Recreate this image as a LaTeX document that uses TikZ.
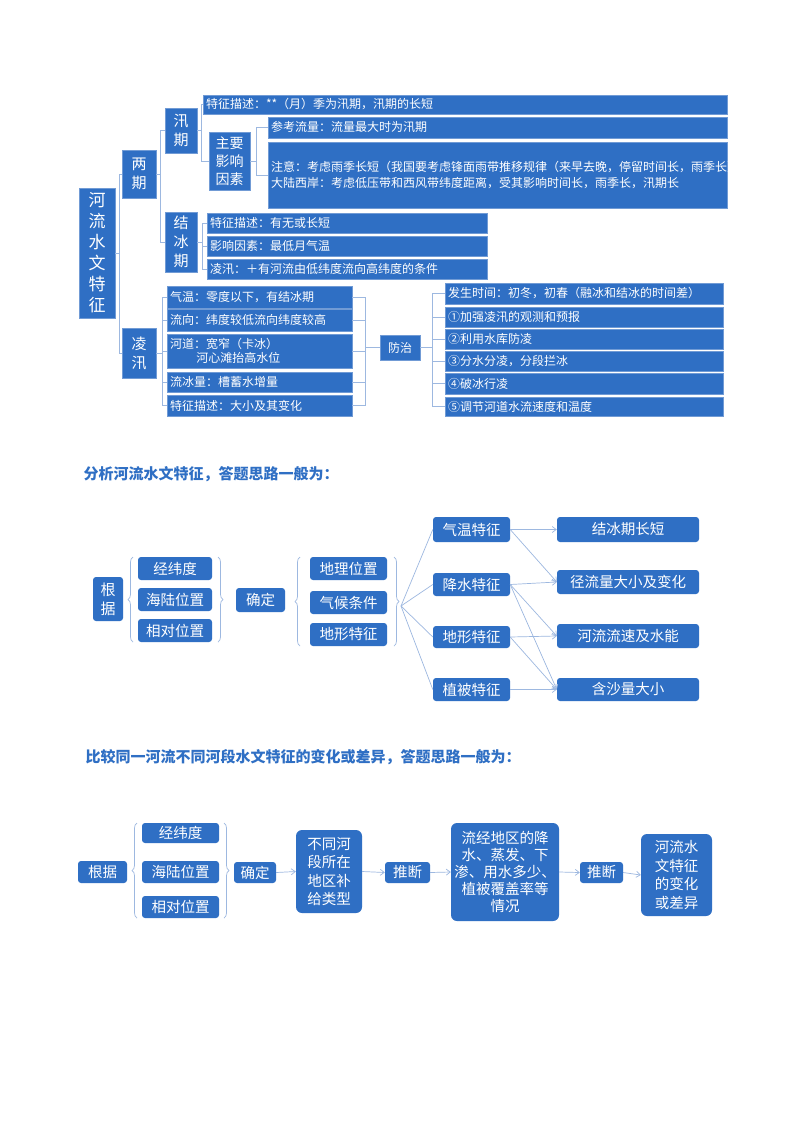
\documentclass[tikz,border=0pt]{standalone}
\usepackage{fontspec}
\setmainfont{Noto Sans CJK SC}
\usetikzlibrary{decorations.pathreplacing,arrows.meta}
\definecolor{bb}{HTML}{2F6FC4}
\definecolor{ll}{HTML}{9DB8E0}
\newcommand\mkbox[7][]{\node[bx,#1,minimum width={(#4-#2)*1pt},minimum height={(#5-#3)*1pt}] (#7) at ({(#2+#4)/2},{(#3+#5)/2}) {#6};}
\newcommand\mkboxl[7][]{\node[bx,#1,minimum width={(#4-#2)*1pt},minimum height={(#5-#3)*1pt},text width={(#4-#2-6)*1pt},align=left] (#7) at ({(#2+#4)/2},{(#3+#5)/2}) {#6};}
\begin{document}
\begin{tikzpicture}[x=1pt,y=-1pt,
  bx/.style={fill=bb,draw=ll!60!bb,line width=0.4pt,text=white,inner sep=0pt,font=\fontsize{12}{14}\selectfont},
  rb/.style={bx,rounded corners=3pt,draw=none,font=\fontsize{14.5}{17}\selectfont},
  ln/.style={draw=ll,line width=0.7pt},
  ar/.style={ln,-{Straight Barb[length=4pt,width=6pt]}},
  br/.style={ln,decorate,decoration={brace,amplitude=5pt}}]
\useasboundingbox (0,0) rectangle (800,1132);
\fill[white] (0,0) rectangle (800,1132);
% ---------- section 1
\mkbox[font=\fontsize{17}{21}\selectfont,align=center]{79}{188}{115}{318}{河\\流\\水\\文\\特\\征}{hl}
\mkbox[font=\fontsize{15}{19}\selectfont,align=center]{122}{150}{156}{198}{两\\期}{lq}
\mkbox[font=\fontsize{15}{19}\selectfont,align=center]{122}{328}{156}{378}{凌\\汛}{lx}
\mkbox[font=\fontsize{15}{19}\selectfont,align=center]{165}{108}{197}{153}{汛\\期}{xq}
\mkbox[font=\fontsize{15}{19}\selectfont,align=center]{165}{212}{197}{272}{结\\冰\\期}{jb}
\mkboxl{203}{95}{727}{114}{特征描述：**（月）季为汛期，汛期的长短}{x1}
\mkbox[font=\fontsize{14}{18}\selectfont,align=center]{209}{132}{250}{190}{主要\\影响\\因素}{zy}
\mkboxl{268}{117}{727}{138}{参考流量：流量最大时为汛期}{z1}
\mkboxl[font=\fontsize{12}{15.5}\selectfont]{268}{142}{727}{208}{注意：考虑雨季长短（我国要考虑锋面雨带推移规律（来早去晚，停留时间长，雨季长）\\大陆西岸：考虑低压带和西风带纬度距离，受其影响时间长，雨季长，汛期长}{z2}
\mkboxl{207}{213}{487}{233}{特征描述：有无或长短}{j1}
\mkboxl{207}{236}{487}{256}{影响因素：最低月气温}{j2}
\mkboxl{207}{259}{487}{279}{凌汛：＋有河流由低纬度流向高纬度的条件}{j3}
\mkboxl{167}{286}{352}{308}{气温：零度以下，有结冰期}{l1}
\mkboxl{167}{309}{352}{331}{流向：纬度较低流向纬度较高}{l2}
\mkboxl[font=\fontsize{12}{14}\selectfont]{167}{334}{352}{368}{河道：宽窄（卡冰）\\\hspace*{2.2em}河心滩抬高水位}{l3}
\mkboxl{167}{372}{352}{392}{流冰量：槽蓄水增量}{l4}
\mkboxl{167}{395}{352}{416}{特征描述：大小及其变化}{l5}
\mkbox{380}{335}{420}{360}{防治}{fz}
\mkboxl{445}{283}{723}{304}{发生时间：初冬，初春（融冰和结冰的时间差）}{f0}
\mkboxl{445}{307}{723}{327}{①加强凌汛的观测和预报}{f1}
\mkboxl{445}{329}{723}{349}{②利用水库防凌}{f2}
\mkboxl{445}{351}{723}{371}{③分水分凌，分段拦冰}{f3}
\mkboxl{445}{373}{723}{394}{④破冰行凌}{f4}
\mkboxl{445}{397}{723}{416}{⑤调节河道水流速度和温度}{f5}
\foreach \c in {lq,lx} \draw[ln] (hl.east) -- ++(4,0) |- (\c.west);
\foreach \c in {xq,jb} \draw[ln] (lq.east) -- ++(4,0) |- (\c.west);
\foreach \c in {x1,zy} \draw[ln] (xq.east) -- ++(4,0) |- (\c.west);
\foreach \c in {z1,z2} \draw[ln] (zy.east) -- ++(6,0) |- (\c.west);
\foreach \c in {j1,j2,j3} \draw[ln] (jb.east) -- ++(5,0) |- (\c.west);
\foreach \c in {l1,l2,l3,l4,l5} \draw[ln] (lx.east) -- ++(6,0) |- (\c.west);
\foreach \c in {l1,l2,l3,l4,l5} \draw[ln] (fz.west) -- ++(-14,0) |- (\c.east);
\foreach \c in {f0,f1,f2,f3,f4,f5} \draw[ln] (fz.east) -- ++(12,0) |- (\c.west);
% ---------- section 2
\node[anchor=west,text=bb,font=\fontsize{15}{18}\selectfont\bfseries] (h1) at (80,474) {分析河流水文特征，答题思路一般为：};
\mkbox[rb,align=center,font=\fontsize{15}{19}\selectfont]{93}{577}{123}{621}{根\\据}{g}
\mkbox[rb]{138}{557}{212}{580}{经纬度}{a1}
\mkbox[rb]{138}{588}{212}{611}{海陆位置}{a2}
\mkbox[rb]{138}{619}{212}{642}{相对位置}{a3}
\mkbox[rb]{236}{588}{285}{612}{确定}{qd}
\mkbox[rb]{310}{557}{387}{580}{地理位置}{b1}
\mkbox[rb]{310}{591}{387}{614}{气候条件}{b2}
\mkbox[rb]{310}{623}{387}{646}{地形特征}{b3}
\mkbox[rb]{433}{517}{510}{542}{气温特征}{c1}
\mkbox[rb]{433}{573}{510}{596}{降水特征}{c2}
\mkbox[rb]{433}{626}{510}{648}{地形特征}{c3}
\mkbox[rb]{433}{678}{510}{701}{植被特征}{c4}
\mkbox[rb]{557}{517}{699}{542}{结冰期长短}{d1}
\mkbox[rb]{557}{570}{699}{594}{径流量大小及变化}{d2}
\mkbox[rb]{557}{624}{699}{648}{河流流速及水能}{d3}
\mkbox[rb]{557}{678}{699}{701}{含沙量大小}{d4}
\draw[br] (133,642) -- (133,557);
\draw[br] (218,557) -- (218,642);
\draw[br] (300,646) -- (300,557);
\draw[br] (394,557) -- (394,646);
\coordinate (fo) at (401,606);
\foreach \c in {c1,c2,c3,c4} \draw[ln] (fo) -- (\c.west);
\draw[ar] (c1.east) -- (d1.west);
\draw[ar] (c1.east) -- (d2.west);
\draw[ar] (c2.east) -- (d2.west);
\draw[ar] (c2.east) -- (d3.west);
\draw[ar] (c2.east) -- (d4.west);
\draw[ar] (c3.east) -- (d3.west);
\draw[ar] (c3.east) -- (d4.west);
\draw[ar] (c4.east) -- (d4.west);
% ---------- section 3
\node[anchor=west,text=bb,font=\fontsize{15}{18}\selectfont\bfseries] (h2) at (82,757) {比较同一河流不同河段水文特征的变化或差异，答题思路一般为：};
\mkbox[rb]{78}{861}{127}{883}{根据}{s0}
\mkbox[rb]{142}{823}{219}{843}{经纬度}{s1}
\mkbox[rb]{142}{861}{219}{883}{海陆位置}{s2}
\mkbox[rb]{142}{896}{219}{918}{相对位置}{s3}
\mkbox[rb]{234}{862}{276}{883}{确定}{s4}
\mkbox[rb,align=center,rounded corners=6pt,font=\fontsize{14.5}{18.5}\selectfont]{296}{830}{362}{913}{不同河\\段所在\\地区补\\给类型}{s5}
\mkbox[rb]{385}{862}{430}{883}{推断}{s6}
\mkbox[rb,align=center,rounded corners=6pt,font=\fontsize{14.5}{17}\selectfont]{451}{823}{559}{921}{流经地区的降\\水、蒸发、下\\渗、用水多少、\\植被覆盖率等\\情况}{s7}
\mkbox[rb]{580}{862}{623}{883}{推断}{s8}
\mkbox[rb,align=center,rounded corners=6pt,font=\fontsize{14.5}{18.5}\selectfont]{641}{834}{712}{916}{河流水\\文特征\\的变化\\或差异}{s9}
\draw[br] (137,918) -- (137,823);
\draw[br] (224,823) -- (224,918);
\draw[ar] (s4.east) -- (s5.west);
\draw[ar] (s5.east) -- (s6.west);
\draw[ar] (s6.east) -- (s7.west);
\draw[ar] (s7.east) -- (s8.west);
\draw[ar] (s8.east) -- (s9.west);
\end{tikzpicture}
\end{document}
